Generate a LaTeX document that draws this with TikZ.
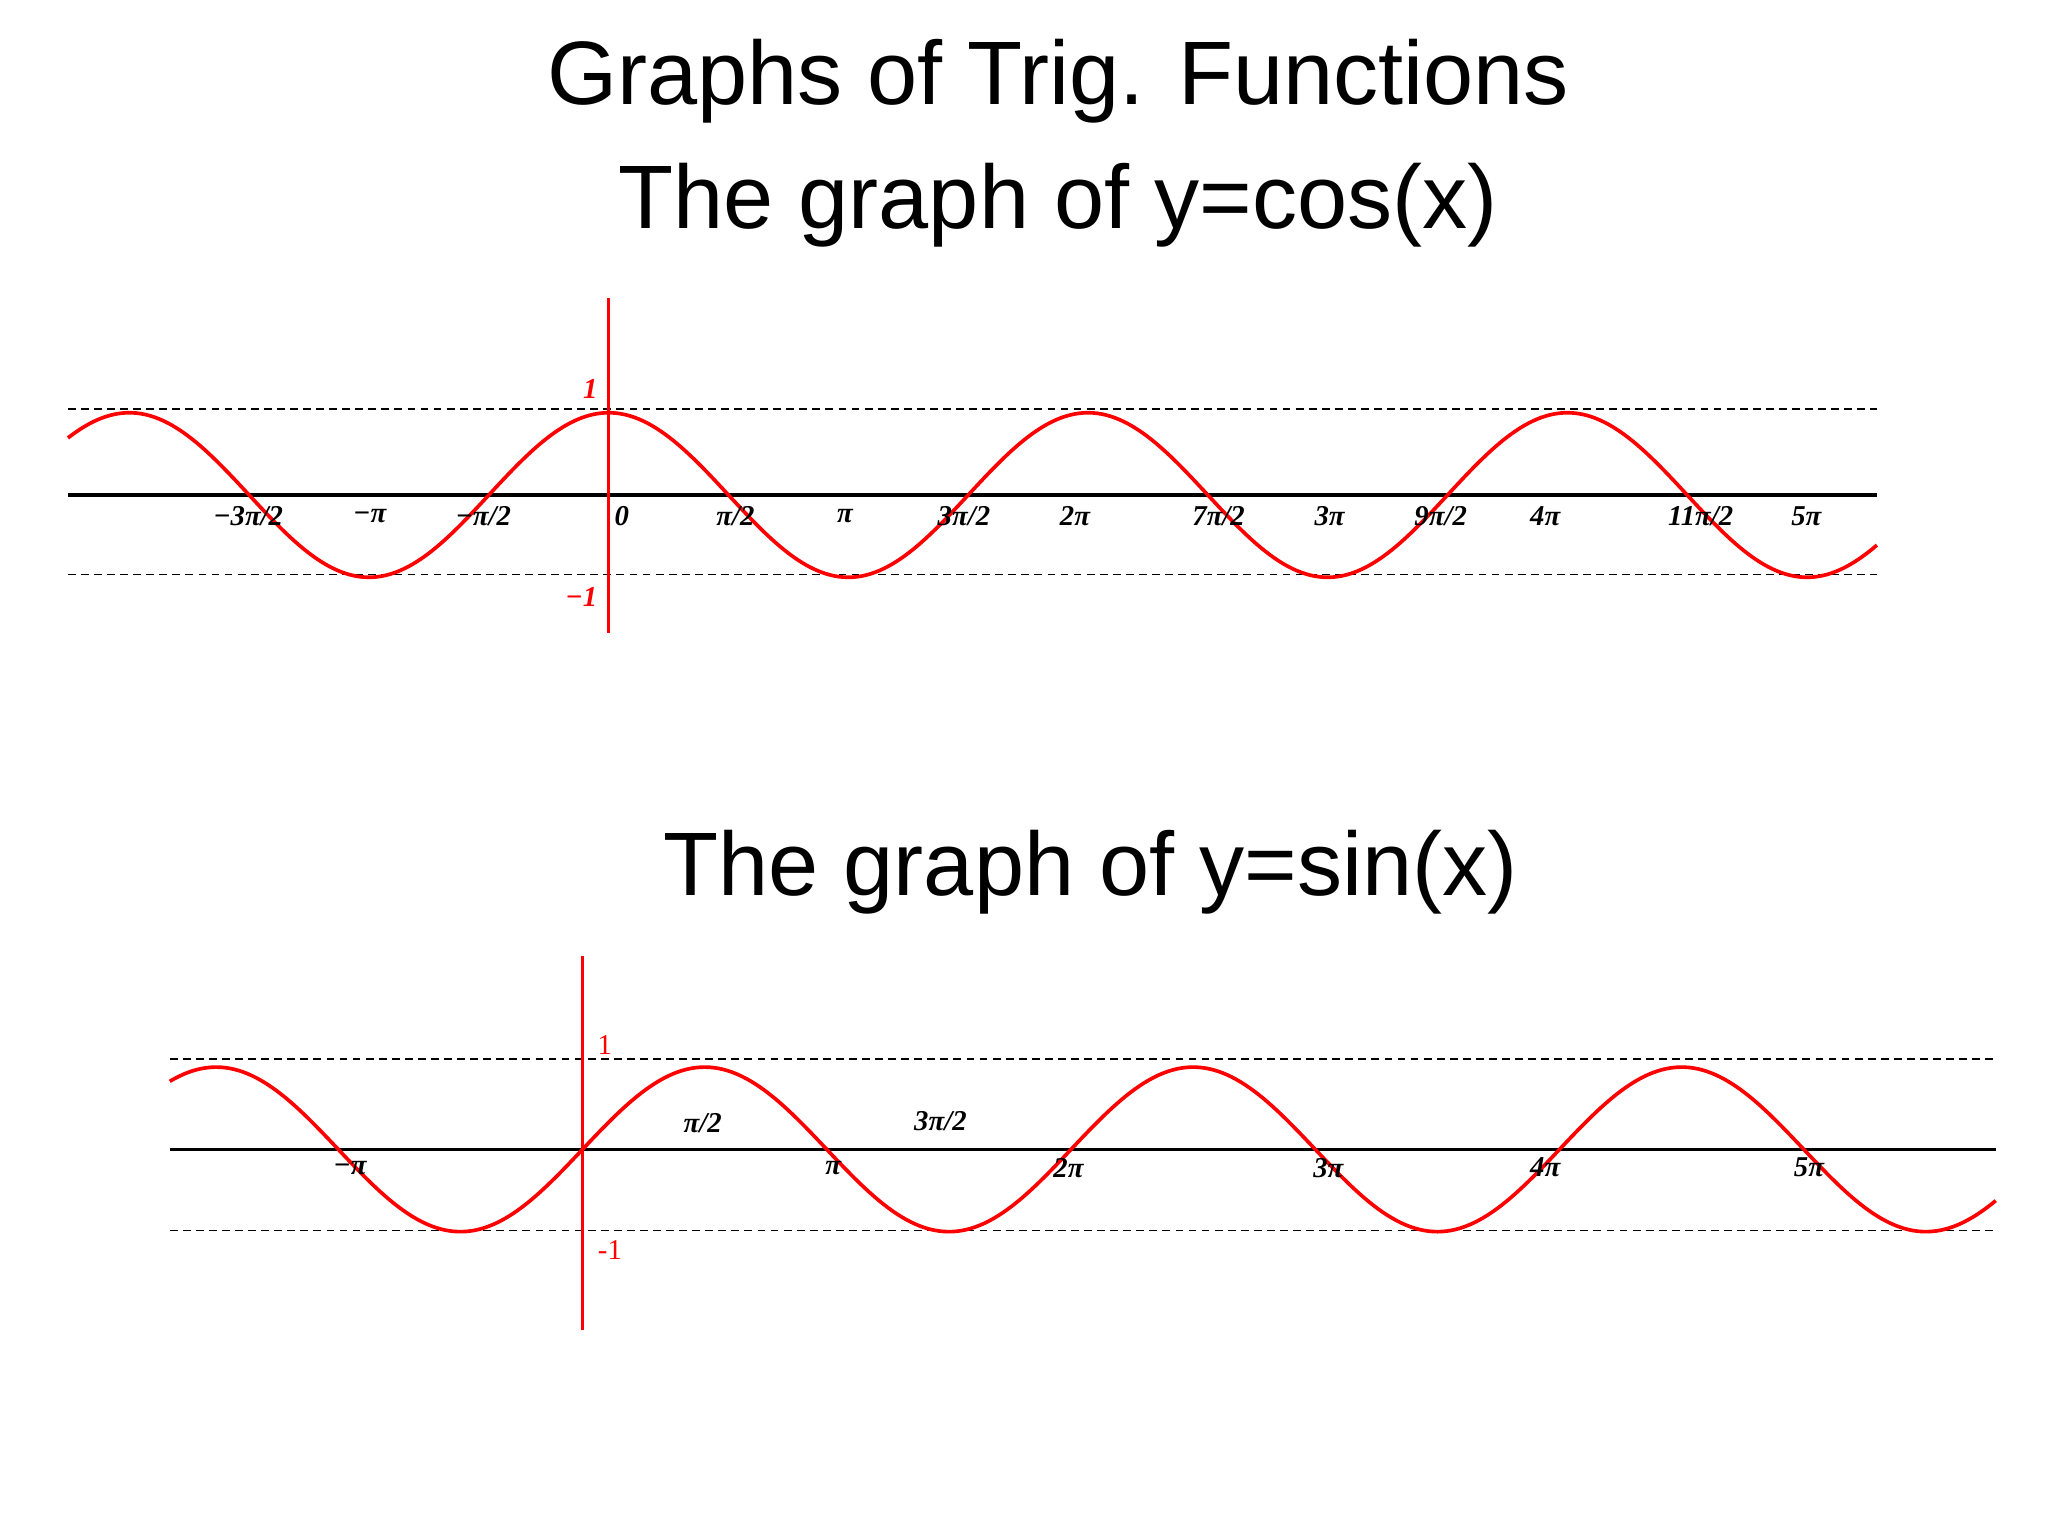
\documentclass[tikz,border=0pt]{standalone}
\usepackage{fontspec}
\setmainfont{Liberation Sans}
\newfontfamily\tms{Liberation Serif}
\begin{document}
\begin{tikzpicture}[x=0.5pt,y=-0.5pt,
  title/.style={font=\fontsize{34.5}{38}\selectfont},
  curve/.style={red,line width=1.4pt},
  axis/.style={black,line width=1.4pt},
  vax/.style={red,line width=1.4pt},
  guide/.style={black,dashed,line width=0.6pt,dash pattern=on 3pt off 2pt},
  lab/.style={font=\tms\bfseries\itshape\fontsize{11}{13}\selectfont},
  rlab/.style={font=\tms\itshape\bfseries\fontsize{11}{13}\selectfont,text=red}]
\useasboundingbox (0,0) rectangle (1568,1176);
\node[title] (t1) at (810,62) {Graphs of Trig. Functions};
\node[title] (t2) at (810,157) {The graph of y=cos(x)};
\node[title] (t3) at (835,668) {The graph of y=sin(x)};
% cos graph
\draw[guide] (52,313) -- (1437,313);
\draw[guide] (52,440) -- (1437,440);
\draw[axis] (52,379) -- (1437,379);
\draw[vax] (466,228) -- (466,485);
\draw[curve] plot[domain=52:1437,samples=400] (\x,{379-63*cos((\x-466)/183.5*180)});
\foreach \p/\t in {190/{−3π/2},283/{−π},370/{−π/2},476/0,563/{π/2},647/{π},738/{3π/2},823/{2π},933/{7π/2},1018/{3π},1103/{9π/2},1183/{4π},1302/{11π/2},1383/{5π}}
  \node[lab] at (\p,395) {\t};
\node[rlab] at (452,298) {1};
\node[rlab] at (445,457) {−1};
% sin graph
\draw[guide] (130,811) -- (1528,811);
\draw[guide] (130,942) -- (1528,942);
\draw[axis] (130,880) -- (1528,880);
\draw[vax] (446,732) -- (446,1018);
\draw[curve] plot[domain=130:1528,samples=400] (\x,{880-63*sin((\x-446)/187*180)});
\foreach \p/\t in {268/{−π},638/{π},818/{2π},1017/{3π},1183/{4π},1385/{5π}}
  \node[lab] at (\p,894) {\t};
\node[lab] at (538,860) {π/2};
\node[lab] at (720,858) {3π/2};
\node[text=red,font=\tms\fontsize{11}{13}\selectfont] at (463,800) {1};
\node[text=red,font=\tms\fontsize{11}{13}\selectfont] at (467,957) {-1};
\end{tikzpicture}
\end{document}
